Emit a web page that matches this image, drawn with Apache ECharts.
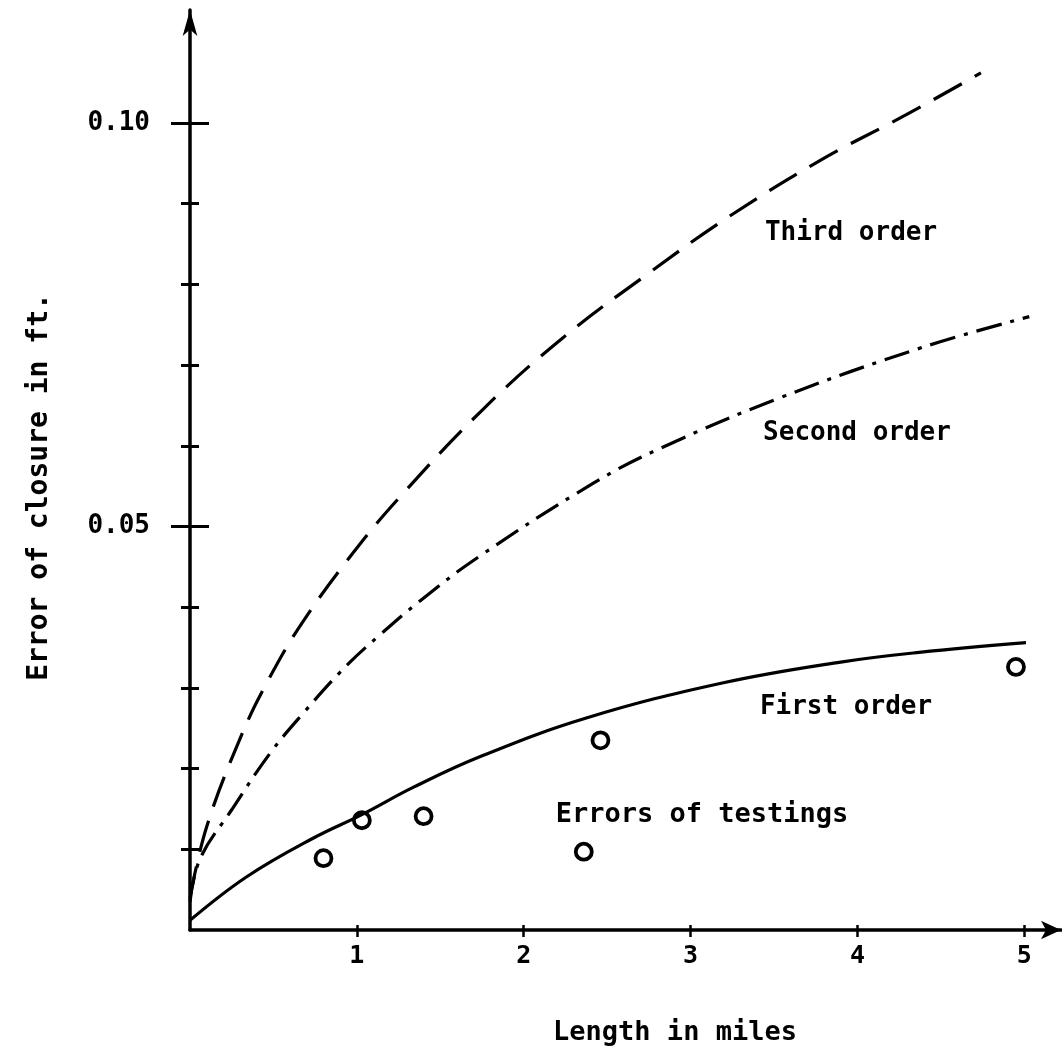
<!DOCTYPE html>
<html>
<head>
<meta charset="utf-8">
<title>Error of closure</title>
<script src="https://cdn.jsdelivr.net/npm/echarts@6/dist/echarts.min.js"></script>
<style>
  html, body { margin: 0; padding: 0; background: #fff; }
  #chart { width: 1062px; height: 1056px; }
</style>
</head>
<body>
<div id="chart"></div>
<script>
// values (length in miles -> error in ft)
var firstOrderX = [0, 0.34, 0.74, 1.03, 1.34, 1.74, 2.38, 3.19, 3.90, 4.37, 5.01];
var firstOrderY = [0.0012, 0.0066, 0.0114, 0.0143, 0.0177, 0.0215, 0.0263, 0.0306, 0.0332, 0.0344, 0.0356];

var secondOrderX = [0, 0.06, 0.25, 0.48, 0.68, 0.94, 1.14, 1.38, 1.72, 2.42, 2.82, 3.53, 4.39, 5.03];
var secondOrderY = [0.0035, 0.0088, 0.0149, 0.0219, 0.0269, 0.0328, 0.0366, 0.0408, 0.0461, 0.0554, 0.0597, 0.0659, 0.0722, 0.0760];

var thirdOrderX = [0, 0.10, 0.31, 0.47, 0.67, 0.98, 1.26, 1.75, 2.23, 2.75, 3.23, 3.78, 4.29, 4.74];
var thirdOrderY = [0.004, 0.0128, 0.0242, 0.0310, 0.0380, 0.0468, 0.0537, 0.0644, 0.0733, 0.0814, 0.0884, 0.0954, 0.1010, 0.1062];

var testX = [0.80, 1.03, 1.40, 2.36, 2.46, 4.95];
var testY = [0.0089, 0.0136, 0.0141, 0.0097, 0.0235, 0.0326];

var xTicks = [1, 2, 3, 4, 5];
var yMinorTicks = [0.01, 0.02, 0.03, 0.04, 0.06, 0.07, 0.08, 0.09];
var yMajorTicks = [0.05, 0.1];

var xMax = 5.22;
var yMax = 0.114;
var font = '"DejaVu Sans Mono", monospace';

function pairs(xs, ys) {
    var out = [];
    for (var i = 0; i < xs.length; i++) {
        out.push([xs[i], ys[i]]);
    }
    return out;
}

// main y axis: line, arrow and labels only
var yMain = {
    type: 'value',
    min: 0,
    max: yMax,
    position: 'left',
    splitLine: { show: false },
    axisLine: {
        show: true,
        symbol: ['none', 'arrow'],
        symbolSize: [11, 26],
        lineStyle: { color: '#000', width: 3.5 }
    },
    axisTick: { show: false },
    axisLabel: {
        show: true,
        customValues: yMajorTicks,
        margin: 40,
        color: '#000',
        fontFamily: font,
        fontSize: 26,
        fontWeight: 'bold',
        formatter: function (v) { return v.toFixed(2); }
    }
};

// tick-only axes shifted right by half the tick length, so ticks cross the line
function yTickAxis(ticks, half) {
    return {
        type: 'value',
        min: 0,
        max: yMax,
        position: 'left',
        offset: -half,
        splitLine: { show: false },
        axisLine: { show: false },
        axisTick: {
            show: true,
            length: half * 2,
            customValues: ticks,
            lineStyle: { color: '#000', width: 3 }
        },
        axisLabel: { show: false }
    };
}

var xMain = {
    type: 'value',
    min: 0,
    max: xMax,
    position: 'bottom',
    splitLine: { show: false },
    axisLine: {
        show: true,
        symbol: ['none', 'arrow'],
        symbolSize: [14, 20],
        lineStyle: { color: '#000', width: 3.5 }
    },
    axisTick: { show: false },
    axisLabel: {
        show: true,
        customValues: xTicks,
        margin: 14,
        color: '#000',
        fontFamily: font,
        fontSize: 25,
        fontWeight: 'bold',
        formatter: function (v) { return String(v); }
    }
};

var xTickAxis = {
    type: 'value',
    min: 0,
    max: xMax,
    position: 'bottom',
    offset: -5,
    splitLine: { show: false },
    axisLine: { show: false },
    axisTick: {
        show: true,
        length: 12,
        customValues: xTicks,
        lineStyle: { color: '#000', width: 2.5 }
    },
    axisLabel: { show: false }
};

function note(text, x, y, size, rot) {
    return {
        type: 'text',
        x: x,
        y: y,
        rotation: rot || 0,
        style: {
            text: text,
            font: 'bold ' + size + 'px ' + font,
            fill: '#000',
            align: 'center',
            verticalAlign: 'middle',
            textAlign: 'center',
            textVerticalAlign: 'middle'
        }
    };
}

var lineBase = { color: '#000', width: 3.2, cap: 'butt' };

var option = {
    backgroundColor: '#fff',
    animation: false,
    grid: { left: 190, right: 1, top: 10, bottom: 126 },
    xAxis: [xMain, xTickAxis],
    yAxis: [yMain, yTickAxis(yMinorTicks, 9), yTickAxis(yMajorTicks, 19)],
    series: [
        {
            name: 'Third order',
            type: 'line',
            smooth: 0.4,
            showSymbol: false,
            data: pairs(thirdOrderX, thirdOrderY),
            lineStyle: Object.assign({}, lineBase, { type: [32, 15] })
        },
        {
            name: 'Second order',
            type: 'line',
            smooth: 0.4,
            showSymbol: false,
            data: pairs(secondOrderX, secondOrderY),
            lineStyle: Object.assign({}, lineBase, { type: [26, 9, 4, 9] })
        },
        {
            name: 'First order',
            type: 'line',
            smooth: 0.4,
            showSymbol: false,
            data: pairs(firstOrderX, firstOrderY),
            lineStyle: Object.assign({}, lineBase, { type: 'solid' })
        },
        {
            name: 'Errors of testings',
            type: 'scatter',
            symbol: 'circle',
            symbolSize: 16,
            data: pairs(testX, testY),
            itemStyle: { color: '#fff', borderColor: '#000', borderWidth: 3.8, opacity: 1 }
        }
    ],
    graphic: [
        note('Third order', 851, 233, 26),
        note('Second order', 857, 433, 26),
        note('First order', 846, 707, 26),
        note('Errors of testings', 702, 815, 27),
        note('Length in miles', 675, 1033, 27),
        note('Error of closure in ft.', 40, 487, 28, Math.PI / 2)
    ]
};

var chart = echarts.init(document.getElementById('chart'));
chart.setOption(option);
</script>
</body>
</html>
